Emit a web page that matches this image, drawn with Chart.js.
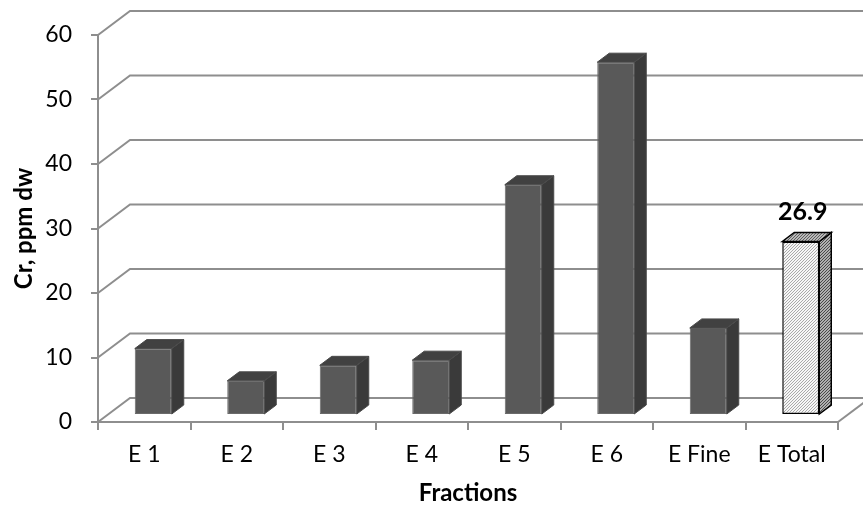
<!DOCTYPE html>
<html>
<head>
<meta charset="utf-8">
<script src="https://cdn.jsdelivr.net/npm/chart.js@4/dist/chart.umd.min.js"></script>
<style>
  html, body { margin: 0; padding: 0; background: #fff; }
  #wrap { width: 863px; height: 513px; }
</style>
</head>
<body>
<div id="wrap"><canvas id="c" width="863" height="513"></canvas></div>
<script>
// Chromium (Cr) content per fraction, ppm dry weight
const categories = ['E 1', 'E 2', 'E 3', 'E 4', 'E 5', 'E 6', 'E Fine', 'E Total'];
const crValues = [10.3, 5.3, 7.7, 8.5, 35.7, 54.7, 13.5, 26.9];
const yTickValues = [0, 10, 20, 30, 40, 50, 60];
const labelledIndex = 7; // only the total gets a value label

const FONT = 'Lato';
const GRID = '#8e8e8e';
const WALL = { dx: 32, dy: -24 };  // back wall offset from the front axis plane
const BAR = { dx: 9, dy: -7 };     // plane of the bar fronts
const DEPTH = { dx: 12, dy: -9 };  // bar depth (side / top faces)

function hatch(bg, fg, size, lw) {
  const c = document.createElement('canvas');
  c.width = c.height = size;
  const g = c.getContext('2d');
  g.fillStyle = bg;
  g.fillRect(0, 0, size, size);
  g.strokeStyle = fg;
  g.lineWidth = lw;
  g.beginPath();
  g.moveTo(0, size); g.lineTo(size, 0);
  g.moveTo(-1, 1); g.lineTo(1, -1);
  g.moveTo(size - 1, size + 1); g.lineTo(size + 1, size - 1);
  g.stroke();
  return g.createPattern(c, 'repeat');
}

const totalFront = hatch('#f6f6f6', '#a0a0a0', 3, 0.9);
const totalSide = hatch('#b0b0b0', '#4a4a4a', 3, 1);
const totalTop = hatch('#b8b8b8', '#5e5e5e', 3, 1);

const isTotal = i => i === categories.length - 1;
const frontFill = categories.map((c, i) => isTotal(i) ? totalFront : '#595959');
const frontEdge = categories.map((c, i) => isTotal(i) ? '#000000' : '#6a6a6a');
const sideFill = categories.map((c, i) => isTotal(i) ? totalSide : '#3a3a3a');
const topFill = categories.map((c, i) => isTotal(i) ? totalTop : '#414141');

const frame3d = {
  id: 'frame3d',
  beforeDatasetsDraw(chart) {
    const { ctx, chartArea: a, scales: { y } } = chart;
    ctx.save();
    ctx.strokeStyle = GRID;
    ctx.lineWidth = 2;
    // side wall diagonals and back wall gridlines
    yTickValues.forEach(v => {
      const py = y.getPixelForValue(v);
      ctx.beginPath();
      ctx.moveTo(a.left, py);
      ctx.lineTo(a.left + WALL.dx, py + WALL.dy);
      ctx.lineTo(chart.width + 20, py + WALL.dy);
      ctx.stroke();
    });
    // right edge of the floor
    const y0 = y.getPixelForValue(0);
    ctx.beginPath();
    ctx.moveTo(a.right, y0);
    ctx.lineTo(a.right + WALL.dx, y0 + WALL.dy);
    ctx.stroke();
    ctx.restore();
    // bars are drawn a little behind the front plane
    ctx.save();
    ctx.translate(BAR.dx, BAR.dy);
  },
  afterDatasetsDraw(chart) {
    const ctx = chart.ctx;
    const meta = chart.getDatasetMeta(0);
    meta.data.forEach((bar, i) => {
      const { x, y, base, width } = bar.getProps(['x', 'y', 'base', 'width'], true);
      const l = x - width / 2, r = x + width / 2;
      ctx.lineWidth = isTotal(i) ? 1.5 : 1;
      ctx.strokeStyle = isTotal(i) ? '#000' : '#4a4a4a';
      // side face
      ctx.beginPath();
      ctx.moveTo(r, y);
      ctx.lineTo(r + DEPTH.dx, y + DEPTH.dy);
      ctx.lineTo(r + DEPTH.dx, base + DEPTH.dy);
      ctx.lineTo(r, base);
      ctx.closePath();
      ctx.fillStyle = sideFill[i];
      ctx.fill();
      ctx.stroke();
      // top face
      ctx.beginPath();
      ctx.moveTo(l, y);
      ctx.lineTo(l + DEPTH.dx, y + DEPTH.dy);
      ctx.lineTo(r + DEPTH.dx, y + DEPTH.dy);
      ctx.lineTo(r, y);
      ctx.closePath();
      ctx.fillStyle = topFill[i];
      ctx.fill();
      ctx.stroke();
    });
    ctx.restore();

    // value label above the total
    const bar = meta.data[labelledIndex];
    const { x, y } = bar.getProps(['x', 'y'], true);
    ctx.save();
    ctx.fillStyle = '#000';
    ctx.font = 'bold 25px ' + FONT;
    ctx.textAlign = 'center';
    ctx.textBaseline = 'alphabetic';
    ctx.fillText(crValues[labelledIndex].toFixed(1), x + BAR.dx + 2, y + BAR.dy + DEPTH.dy - 12);
    ctx.restore();
  }
};

new Chart(document.getElementById('c'), {
  type: 'bar',
  data: {
    labels: categories,
    datasets: [{
      data: crValues,
      backgroundColor: frontFill,
      borderColor: frontEdge,
      borderWidth: categories.map((c, i) => isTotal(i) ? 1.5 : 1),
      borderSkipped: false,
      barPercentage: 0.4,
      categoryPercentage: 1
    }]
  },
  options: {
    responsive: false,
    animation: false,
    events: [],
    layout: { padding: { top: 35, right: 25, left: 0, bottom: 0 } },
    plugins: { legend: { display: false }, tooltip: { enabled: false } },
    scales: {
      x: {
        grid: { display: true, drawOnChartArea: false, offset: true, color: GRID, lineWidth: 2, tickLength: 8 },
        border: { display: true, color: GRID, width: 2 },
        ticks: { color: '#000', font: { family: FONT, size: 23 }, padding: 11, maxRotation: 0, autoSkip: false },
        title: { display: true, text: 'Fractions', color: '#000', font: { family: FONT, size: 24, weight: 'bold' }, padding: { top: 0, bottom: 5 } },
        afterFit(s) { s.height = 91; }
      },
      y: {
        min: 0,
        max: 60,
        afterBuildTicks(s) { s.ticks = yTickValues.map(v => ({ value: v })); },
        grid: { display: true, drawOnChartArea: false, color: GRID, lineWidth: 2, tickLength: 7 },
        border: { display: true, color: GRID, width: 2 },
        ticks: { color: '#000', font: { family: FONT, size: 23 }, padding: 19 },
        title: { display: true, text: 'Cr, ppm dw', color: '#000', font: { family: FONT, size: 24, weight: 'bold' }, padding: { top: 10, bottom: 0 } },
        afterFit(s) { s.width = 98; }
      }
    }
  },
  plugins: [frame3d]
});
</script>
</body>
</html>
